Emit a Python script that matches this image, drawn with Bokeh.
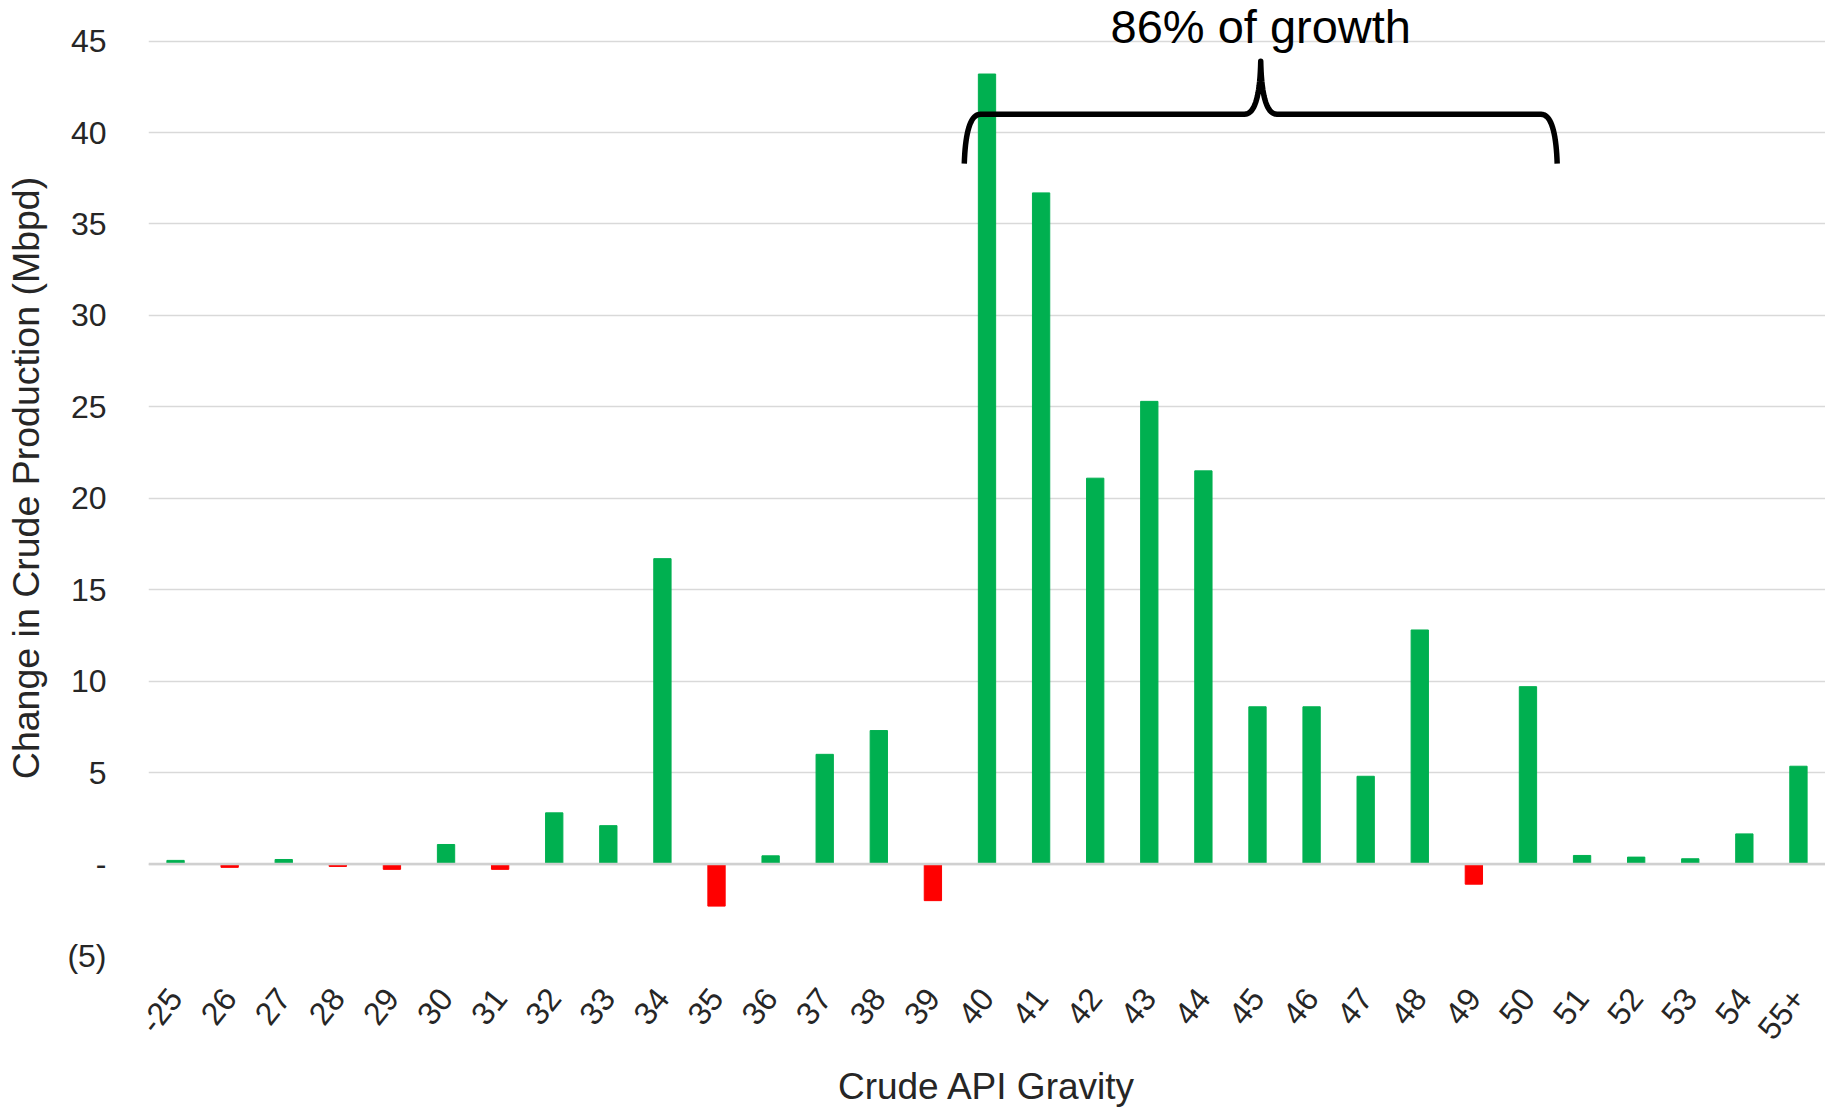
import numpy as np
from bokeh.plotting import figure
from bokeh.models import FactorRange, Range1d, FixedTicker, Span, Label, ColumnDataSource
from bokeh.embed import file_html
from bokeh.resources import INLINE

# ---- data ----
categories = ["-25", "26", "27", "28", "29", "30", "31", "32", "33", "34", "35", "36",
              "37", "38", "39", "40", "41", "42", "43", "44", "45", "46", "47", "48",
              "49", "50", "51", "52", "53", "54", "55+"]
changes = [0.2, -0.18, 0.25, -0.13, -0.29, 1.07, -0.29, 2.8, 2.1, 16.7, -2.3, 0.45,
           6.0, 7.3, -2.0, 43.2, 36.7, 21.1, 25.3, 21.5, 8.6, 8.6, 4.8, 12.8,
           -1.1, 9.7, 0.47, 0.38, 0.29, 1.65, 5.35]
y_ticks = [-5, 0, 5, 10, 15, 20, 25, 30, 35, 40, 45]
y_tick_labels = {-5: "(5)", 0: "-"}
annotation_text = "86% of growth"
bracket_from, bracket_to = "40", "50"

GREEN = "#00B050"
RED = "#FF0000"
FONT = "Liberation Sans"

colors = [GREEN if v >= 0 else RED for v in changes]
src = ColumnDataSource(dict(cat=categories, val=changes, color=colors))

p = figure(x_range=FactorRange(*categories), y_range=Range1d(-5, 47.22),
           width=1825, height=1109, output_backend="svg", toolbar_location=None,
           min_border_left=148, min_border_right=0, min_border_top=0, min_border_bottom=153)
p.outline_line_color = None
p.background_fill_color = "white"
p.border_fill_color = "white"

p.vbar(x="cat", top="val", bottom=0, width=0.32, color="color", source=src)

# zero line
p.add_layout(Span(location=0, dimension="width", line_color="#d0d0d0", line_width=2.5))

# grid
p.xgrid.grid_line_color = None
p.ygrid.grid_line_color = "#d9d9d9"
p.ygrid.grid_line_width = 1.5

# y axis
p.yaxis.ticker = FixedTicker(ticks=y_ticks)
p.yaxis.major_label_overrides = y_tick_labels
p.yaxis.axis_line_color = None
p.yaxis.major_tick_line_color = None
p.yaxis.minor_tick_line_color = None
p.yaxis.major_label_text_font = FONT
p.yaxis.major_label_text_font_size = "32px"
p.yaxis.major_label_text_color = "#262626"
p.yaxis.major_label_standoff = 36
p.yaxis.axis_label = "Change in Crude Production (Mbpd)"
p.yaxis.axis_label_text_font = FONT
p.yaxis.axis_label_text_font_style = "normal"
p.yaxis.axis_label_text_font_size = "37.5px"
p.yaxis.axis_label_text_color = "#262626"
p.yaxis.axis_label_standoff = 17

# x axis
p.xaxis.axis_line_color = None
p.xaxis.major_tick_line_color = None
p.xaxis.minor_tick_line_color = None
p.xaxis.major_label_orientation = 0.9
p.xaxis.major_label_text_font = FONT
p.xaxis.major_label_text_font_size = "32px"
p.xaxis.major_label_text_color = "#262626"
p.xaxis.major_label_standoff = 31
p.xaxis.axis_label = "Crude API Gravity"
p.xaxis.axis_label_text_font = FONT
p.xaxis.axis_label_text_font_style = "normal"
p.xaxis.axis_label_text_font_size = "37px"
p.xaxis.axis_label_text_color = "#262626"
p.xaxis.axis_label_standoff = 14

# bracket (curly brace) spanning categories 40..50
xL = categories.index(bracket_from) + 0.08
xR = categories.index(bracket_to) + 1.04
xc = (xL + xR) / 2
yH, yE, yP = 41.0, 38.3, 43.9


def quad(p0, c, p1, n=20):
    t = np.linspace(0, 1, n)
    x = (1 - t) ** 2 * p0[0] + 2 * (1 - t) * t * c[0] + t ** 2 * p1[0]
    y = (1 - t) ** 2 * p0[1] + 2 * (1 - t) * t * c[1] + t ** 2 * p1[1]
    return list(x), list(y)


bx, by = [], []
for seg in [quad((xL, yE), (xL + 0.03, yH), (xL + 0.3, yH)),
            quad((xc - 0.3, yH), (xc - 0.02, yH), (xc, yP)),
            quad((xc, yP), (xc + 0.02, yH), (xc + 0.3, yH)),
            quad((xR - 0.3, yH), (xR - 0.03, yH), (xR, yE))]:
    bx += seg[0]
    by += seg[1]
p.line(bx, by, line_color="black", line_width=5.5, line_join="round", line_cap="butt")

p.add_layout(Label(x=xc, y=45.82, text=annotation_text, text_align="center",
                   text_baseline="middle", text_font=FONT, text_font_size="47px",
                   text_color="black"))

open("out.html", "w").write(file_html(p, INLINE))
